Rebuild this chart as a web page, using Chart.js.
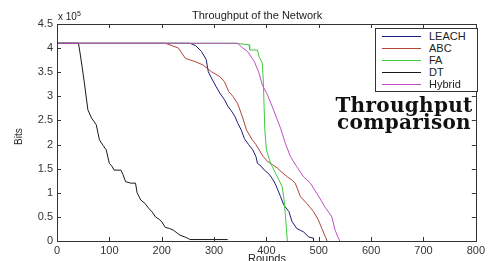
<!DOCTYPE html>
<html>
<head>
<meta charset="utf-8">
<script src="https://cdn.jsdelivr.net/npm/chart.js@4.4.1/dist/chart.umd.min.js"></script>
<style>
  body { margin: 0; background: #fff; }
  #wrap { position: relative; width: 488px; height: 261px; overflow: hidden; font-family: "Liberation Sans", Arial, sans-serif; color: #222; }
  canvas { position: absolute; left: 0; top: 0; }
  .lbl { position: absolute; white-space: nowrap; }
  #legend { position: absolute; left: 375px; top: 28px; width: 101px; height: 62px; border: 1px solid #333; background: #fff; }
  #legend .row { position: absolute; left: 0; height: 12px; }
  #legend .ln { position: absolute; left: 6px; top: 6px; width: 39px; height: 0; border-top: 1px solid; }
  #legend .tx { position: absolute; left: 53px; top: 0; font-size: 11px; line-height: 12px; color: #222; }
  #note { position: absolute; left: 329px; top: 97px; width: 150px; text-align: center; font-family: "DejaVu Serif", serif; font-weight: bold; font-size: 20px; line-height: 17px; letter-spacing: 0.3px; color: #111; }
</style>
</head>
<body>
<div id="wrap">
  <canvas id="chart" width="488" height="261"></canvas>
  <div class="lbl" style="left:192px; top:9px; font-size:11px;">Throughput of the Network</div>
  <div class="lbl" style="left:58px; top:10px; font-size:10px;">x 10<sup style="font-size:7px;">5</sup></div>
  <div class="lbl" style="left:6px; top:126px; font-size:10px; transform: rotate(-90deg); transform-origin: 13px 6px;">Bits</div>
  <div class="lbl" style="left:248px; top:252px; font-size:11px;">Rounds</div>
  <div id="legend"></div>
  <div id="note">Throughput<br>comparison</div>
</div>
<script>
// values (Bits in units of 1e5)
const seriesNames = ['LEACH', 'ABC', 'FA', 'DT', 'Hybrid'];
const seriesColors = ['#1c1c78', '#b0453a', '#3ccc3c', '#1a1a1a', '#c04ec4'];

const leachRounds = [0, 254, 265, 276, 285, 289, 295, 304, 312, 320, 326, 333, 340, 345, 352, 358, 366, 374, 380, 383, 390, 396, 404, 411, 418, 427, 433, 443, 449, 458, 465, 471, 480, 485, 490, 490];
const leachBits = [4.1, 4.1, 4.05, 3.93, 3.76, 3.51, 3.38, 3.2, 3.05, 2.93, 2.8, 2.7, 2.58, 2.45, 2.3, 2.12, 2.0, 1.89, 1.75, 1.61, 1.55, 1.47, 1.4, 1.3, 1.16, 0.92, 0.75, 0.61, 0.4, 0.26, 0.22, 0.19, 0.09, 0.07, 0.06, 0];

const abcRounds = [0, 207, 220, 232, 245, 255, 264, 279, 295, 311, 320, 328, 336, 345, 355, 362, 373, 380, 386, 394, 402, 412, 421, 430, 440, 448, 455, 465, 477, 490, 499, 506, 512, 516];
const abcBits = [4.1, 4.1, 4.05, 4.0, 3.79, 3.75, 3.72, 3.65, 3.51, 3.41, 3.3, 3.1, 3.0, 2.85, 2.55, 2.3, 2.1, 2.0, 1.89, 1.75, 1.65, 1.58, 1.51, 1.42, 1.33, 1.27, 1.2, 0.92, 0.78, 0.61, 0.44, 0.26, 0.1, 0];

const faRounds = [0, 340, 367, 368, 383, 386, 392, 394, 397, 400, 408, 421, 430, 433, 436, 440];
const faBits = [4.1, 4.1, 4.07, 3.96, 3.96, 3.82, 3.69, 3.34, 2.3, 1.89, 1.61, 1.33, 1.13, 0.92, 0.57, 0];

const dtRounds = [0, 41, 44, 48, 52, 59, 66, 75, 81, 88, 94, 100, 105, 109, 122, 126, 131, 141, 150, 153, 160, 168, 175, 182, 188, 195, 200, 207, 215, 223, 230, 235, 245, 251, 254, 326];
const dtBits = [4.1, 4.1, 3.9, 3.61, 3.3, 2.72, 2.55, 2.41, 2.1, 1.98, 1.89, 1.61, 1.55, 1.47, 1.47, 1.38, 1.23, 1.2, 1.2, 1.0, 0.85, 0.78, 0.68, 0.6, 0.5, 0.45, 0.4, 0.28, 0.26, 0.22, 0.16, 0.12, 0.08, 0.05, 0.03, 0.03];

const hybridRounds = [0, 345, 355, 364, 377, 386, 392, 402, 411, 421, 427, 436, 446, 458, 471, 484, 496, 504, 512, 520, 525, 531, 536, 540];
const hybridBits = [4.1, 4.1, 4.0, 3.93, 3.72, 3.48, 3.24, 3.03, 2.79, 2.51, 2.34, 2.03, 1.75, 1.54, 1.33, 1.2, 0.99, 0.85, 0.7, 0.58, 0.5, 0.23, 0.1, 0];

const allRounds = [leachRounds, abcRounds, faRounds, dtRounds, hybridRounds];
const allBits = [leachBits, abcBits, faBits, dtBits, hybridBits];

function toPoints(xs, ys) {
  return xs.map((x, i) => ({x: x, y: ys[i]}));
}

const datasets = seriesNames.map((name, i) => ({
  label: name,
  data: toPoints(allRounds[i], allBits[i]),
  borderColor: seriesColors[i],
  borderWidth: 1,
  pointRadius: 0,
  tension: 0,
  fill: false,
  order: seriesNames.length - 1 - i   // later series on top, like matlab
}));

// box + inward ticks on all four sides
const boxPlugin = {
  id: 'box',
  afterDraw(chart) {
    const ctx = chart.ctx;
    const a = chart.chartArea;
    const xs = chart.scales.x, ys = chart.scales.y;
    ctx.save();
    ctx.strokeStyle = '#333';
    ctx.lineWidth = 1;
    ctx.strokeRect(Math.round(a.left) + 0.5, Math.round(a.top) + 0.5, Math.round(a.right - a.left), Math.round(a.bottom - a.top));
    ctx.beginPath();
    xs.ticks.forEach(t => {
      const px = Math.round(xs.getPixelForValue(t.value)) + 0.5;
      ctx.moveTo(px, a.bottom); ctx.lineTo(px, a.bottom - 4);
      ctx.moveTo(px, a.top); ctx.lineTo(px, a.top + 4);
    });
    ys.ticks.forEach(t => {
      const py = Math.round(ys.getPixelForValue(t.value)) + 0.5;
      ctx.moveTo(a.left, py); ctx.lineTo(a.left + 4, py);
      ctx.moveTo(a.right, py); ctx.lineTo(a.right - 4, py);
    });
    ctx.stroke();
    ctx.restore();
  }
};

new Chart(document.getElementById('chart'), {
  type: 'line',
  data: { datasets: datasets },
  options: {
    responsive: false,
    animation: false,
    layout: { padding: { top: 24, right: 7, left: 0, bottom: 0 } },
    plugins: { legend: { display: false }, tooltip: { enabled: false }, title: { display: false } },
    scales: {
      x: {
        type: 'linear', min: 0, max: 800,
        grid: { display: false, drawTicks: false },
        border: { display: false },
        ticks: { stepSize: 100, padding: 3, color: '#333', font: { family: 'Liberation Sans', size: 11 }, maxRotation: 0 },
        afterFit: s => { s.height = 20; }
      },
      y: {
        min: 0, max: 4.5,
        grid: { display: false, drawTicks: false },
        border: { display: false },
        ticks: { stepSize: 0.5, padding: 4, color: '#333', font: { family: 'Liberation Sans', size: 11 },
          callback: v => String(Math.round(v * 10) / 10) },
        afterFit: s => { s.width = 57; }
      }
    }
  },
  plugins: [boxPlugin]
});

// legend drawn as html inside the plot box
const legend = document.getElementById('legend');
seriesNames.forEach((name, i) => {
  const row = document.createElement('div');
  row.className = 'row';
  row.style.top = (1 + i * 12) + 'px';
  row.style.width = '100%';
  row.innerHTML = '<div class="ln" style="border-color:' + seriesColors[i] + '"></div><div class="tx" style="color:#222">' + name + '</div>';
  legend.appendChild(row);
});
</script>
</body>
</html>
